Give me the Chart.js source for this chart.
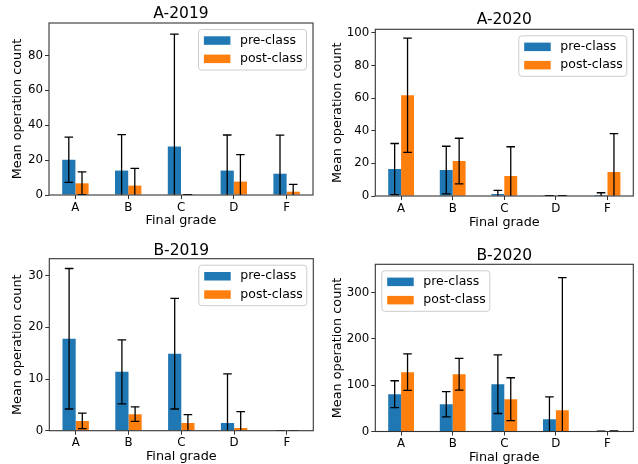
<!DOCTYPE html>
<html>
<head>
<meta charset="utf-8">
<script src="https://cdn.jsdelivr.net/npm/chart.js@4.4.1/dist/chart.umd.min.js"></script>
<style>
  body { margin: 0; background: #fff; }
  #wrap { position: relative; width: 638px; height: 464px; background: #fff; }
  canvas { position: absolute; }
</style>
</head>
<body>
<div id="wrap">
  <canvas id="graphique1" width="319" height="232" style="left:0;top:0"></canvas>
  <canvas id="graphique2" width="319" height="232" style="left:319px;top:0"></canvas>
  <canvas id="graphique3" width="319" height="232" style="left:0;top:232px"></canvas>
  <canvas id="graphique4" width="319" height="232" style="left:319px;top:232px"></canvas>
</div>
<script>
const grades = ['A', 'B', 'C', 'D', 'F'];
const seriesLabels = ['pre-class', 'post-class'];
const seriesColors = ['#1f77b4', '#ff7f0e'];

// A-2019
const preA2019 = [20.2, 14.0, 27.8, 14.0, 12.2];
const preErrA2019 = [13.0, 20.6, 64.4, 20.4, 22.1];
const postA2019 = [6.7, 5.4, 0.1, 7.7, 1.9];
const postErrA2019 = [6.5, 9.9, 0.1, 15.5, 4.2];
const ticksA2019 = [0, 20, 40, 60, 80];

// A-2020
const preA2020 = [16.5, 15.9, 1.2, 0.1, 0.6];
const preErrA2020 = [15.7, 14.6, 2.3, 0.1, 1.4];
const postA2020 = [61.8, 21.4, 12.2, 0.1, 14.7];
const postErrA2020 = [35.0, 14.0, 18.0, 0.1, 23.5];
const ticksA2020 = [0, 20, 40, 60, 80, 100];

// B-2019
const preB2019 = [17.8, 11.4, 14.9, 1.5, 0];
const preErrB2019 = [13.6, 6.2, 10.7, 9.5, 0];
const postB2019 = [1.9, 3.2, 1.5, 0.5, 0];
const postErrB2019 = [1.5, 1.4, 1.6, 3.2, 0];
const ticksB2019 = [0, 10, 20, 30];

// B-2020
const preB2020 = [80.6, 59.0, 102.2, 26.6, 0.3];
const preErrB2020 = [29.0, 27.3, 63.3, 48.2, 0.3];
const postB2020 = [128.1, 123.7, 69.8, 46.0, 1.0];
const postErrB2020 = [39.3, 34.2, 46.2, 286.4, 0.5];
const ticksB2020 = [0, 100, 200, 300];

Chart.defaults.font.family = '"DejaVu Sans", sans-serif';
Chart.defaults.color = '#000';

// barres d'erreur dessinées à partir des valeurs et de l'échelle y
const errorBars = {
    id: 'errorBars',
    afterDatasetsDraw(chart) {
        const {ctx, chartArea, scales} = chart;
        const y = scales.y;
        ctx.save();
        ctx.beginPath();
        ctx.rect(chartArea.left, chartArea.top - 1, chartArea.width, chartArea.height + 1);
        ctx.clip();
        ctx.strokeStyle = '#000';
        ctx.lineWidth = 1.3;
        chart.data.datasets.forEach((ds, i) => {
            chart.getDatasetMeta(i).data.forEach((bar, j) => {
                const v = ds.data[j];
                const e = ds.errors[j];
                const yTop = y.getPixelForValue(v + e);
                const yBot = y.getPixelForValue(v - e);
                ctx.beginPath();
                ctx.moveTo(bar.x, yTop);
                ctx.lineTo(bar.x, yBot);
                ctx.moveTo(bar.x - 4.3, yTop);
                ctx.lineTo(bar.x + 4.3, yTop);
                ctx.moveTo(bar.x - 4.3, yBot);
                ctx.lineTo(bar.x + 4.3, yBot);
                ctx.stroke();
            });
        });
        ctx.restore();

        // cadre autour de la zone du graphique
        ctx.save();
        ctx.strokeStyle = '#333';
        ctx.lineWidth = 1.1;
        ctx.strokeRect(chartArea.left, chartArea.top, chartArea.width, chartArea.height);
        ctx.restore();
    }
};

// légende dans la zone du graphique
const boxLegend = {
    id: 'boxLegend',
    afterDraw(chart, args, opts) {
        const {ctx, chartArea} = chart;
        const w = 108;
        const h = 40.5;
        const x = opts.side === 'left' ? chartArea.left + 6.5 : chartArea.right - 6.5 - w;
        const y = chartArea.top + 6.5;
        ctx.save();
        ctx.beginPath();
        ctx.roundRect(x, y, w, h, 3);
        ctx.fillStyle = 'rgba(255,255,255,0.8)';
        ctx.fill();
        ctx.strokeStyle = '#cccccc';
        ctx.lineWidth = 1;
        ctx.stroke();
        ctx.font = '12.5px "DejaVu Sans"';
        ctx.textBaseline = 'middle';
        chart.data.datasets.forEach((ds, i) => {
            const cy = y + 11 + i * 18.3;
            ctx.fillStyle = ds.backgroundColor;
            ctx.fillRect(x + 5.4, cy - 4.2, 26.5, 8.5);
            ctx.fillStyle = '#000';
            ctx.fillText(ds.label, x + 41.5, cy);
        });
        ctx.restore();
    }
};

const panels = [
    {id: 'graphique1', title: 'A-2019', pre: preA2019, preErr: preErrA2019, post: postA2019, postErr: postErrA2019,
     yTicks: ticksA2019, yMax: 98.6, side: 'right',
     left: 49, top: 23, right: 313, bottom: 195, titleY: 14.2, yTitleX: 17.7, xTitlePad: 5.25},
    {id: 'graphique2', title: 'A-2020', pre: preA2020, preErr: preErrA2020, post: postA2020, postErr: postErrA2020,
     yTicks: ticksA2020, yMax: 102.2, side: 'right',
     left: 56.3, top: 29.3, right: 314.3, bottom: 196, titleY: 20.3, yTitleX: 19, xTitlePad: 3.25},
    {id: 'graphique3', title: 'B-2019', pre: preB2019, preErr: preErrB2019, post: postB2019, postErr: postErrB2019,
     yTicks: ticksB2019, yMax: 33.3, side: 'right',
     left: 49.3, top: 26.7, right: 313.3, bottom: 198.7, titleY: 18.7, yTitleX: 17.7, xTitlePad: 0.6},
    {id: 'graphique4', title: 'B-2020', pre: preB2020, preErr: preErrB2020, post: postB2020, postErr: postErrB2020,
     yTicks: ticksB2020, yMax: 361, side: 'left',
     left: 56.3, top: 32.3, right: 314.3, bottom: 199.5, titleY: 23.7, yTitleX: 19, xTitlePad: 0.2}
];

function afficherGraphique(p) {
    const canvas = document.getElementById(p.id);
    const ctx = canvas.getContext('2d');
    const W = canvas.width;
    const H = canvas.height;

    const data = {
        labels: grades,
        datasets: [
            {
                label: seriesLabels[0],
                data: p.pre,
                errors: p.preErr,
                backgroundColor: seriesColors[0],
                borderWidth: 0,
                barPercentage: 1,
                categoryPercentage: 0.5
            },
            {
                label: seriesLabels[1],
                data: p.post,
                errors: p.postErr,
                backgroundColor: seriesColors[1],
                borderWidth: 0,
                barPercentage: 1,
                categoryPercentage: 0.5
            }
        ]
    };

    const options = {
        responsive: false,
        animation: false,
        layout: {padding: {left: 0, top: 0, right: W - p.right, bottom: 0}},
        plugins: {
            legend: {display: false},
            tooltip: {enabled: false},
            title: {
                display: true,
                text: p.title,
                fullSize: false,
                color: '#000',
                font: {size: 15.5, weight: 'normal', lineHeight: 1.1},
                padding: {top: p.titleY - 8.525, bottom: p.top - p.titleY - 8.525}
            },
            boxLegend: {side: p.side}
        },
        scales: {
            x: {
                type: 'category',
                offset: true,
                border: {display: false},
                grid: {offset: false, drawOnChartArea: false, drawTicks: true, tickLength: 4, tickColor: '#333', tickWidth: 1},
                ticks: {font: {size: 11.8, lineHeight: 1}, padding: 2.8, color: '#000'},
                title: {
                    display: true,
                    text: 'Final grade',
                    color: '#000',
                    font: {size: 12.8, lineHeight: 1},
                    padding: {top: 0, bottom: p.xTitlePad}
                },
                afterFit: (scale) => { scale.height = H - p.bottom; }
            },
            y: {
                min: 0,
                max: p.yMax,
                border: {display: false},
                grid: {drawOnChartArea: false, drawTicks: true, tickLength: 4, tickColor: '#333', tickWidth: 1},
                ticks: {font: {size: 11.8, lineHeight: 1}, padding: 2, color: '#000'},
                afterBuildTicks: (scale) => { scale.ticks = p.yTicks.map(v => ({value: v})); },
                title: {
                    display: true,
                    text: 'Mean operation count',
                    color: '#000',
                    font: {size: 12.8, lineHeight: 1},
                    padding: {top: p.yTitleX - 6.4, bottom: 0}
                },
                afterFit: (scale) => { scale.width = p.left; }
            }
        }
    };

    new Chart(ctx, {
        type: 'bar',
        data: data,
        options: options,
        plugins: [errorBars, boxLegend]
    });
}

panels.forEach(afficherGraphique);
</script>
</body>
</html>
